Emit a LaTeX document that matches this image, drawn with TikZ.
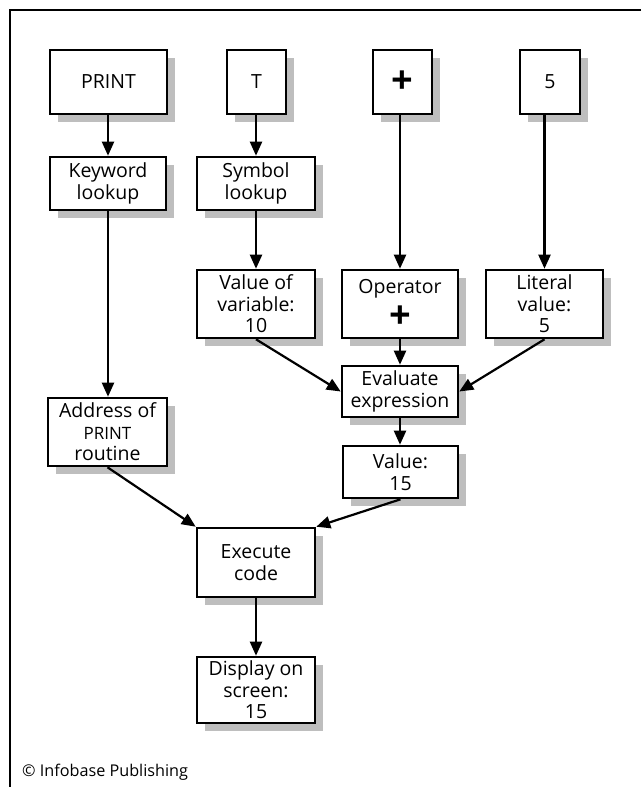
\documentclass[tikz,border=0pt]{standalone}
\usepackage{fontspec}
\setmainfont{Open Sans}
\usetikzlibrary{arrows.meta,shadows}
\definecolor{shadowgray}{RGB}{190,190,190}
\newcommand{\bigplus}{{\fontsize{38}{24}\selectfont\bfseries +}}
\tikzset{
  box/.style={draw, line width=2.6pt, fill=white, inner sep=0pt, align=center,
    font=\fontsize{19.5}{21.5}\selectfont,
    drop shadow={shadow xshift=8pt, shadow yshift=-8pt, fill=shadowgray, opacity=1}},
  arr/.style={line width=2.2pt, -{Triangle[length=14pt,width=12pt]}},
  frame/.style={line width=1.5pt}
}
\begin{document}
\begin{tikzpicture}[x=1pt,y=-1pt]
\useasboundingbox (0,0) rectangle (641,787);
\draw[frame] (641,10) -- (10,10) -- (10,787);

\node[box, minimum width=117pt, minimum height=64pt] (print) at (108.5,82) {PRINT};
\node[box, minimum width=59pt, minimum height=64pt] (t) at (256.5,82) {T};
\node[box, minimum width=59pt, minimum height=64pt] (plus) at (402.5,82) {\bigplus};
\node[box, minimum width=60pt, minimum height=64pt] (five) at (550,82) {5};

\node[box, minimum width=116pt, minimum height=53pt] (kw) at (108,183.5) {Keyword\\lookup};
\node[box, minimum width=118pt, minimum height=53pt] (sym) at (256,183.5) {Symbol\\lookup};

\node[box, minimum width=118pt, minimum height=68pt] (val) at (256,304) {Value of\\variable:\\10};
\node[box, minimum width=116pt, minimum height=68pt] (op) at (400,304) {Operator\\[6pt]\bigplus};
\node[box, minimum width=117pt, minimum height=68pt] (lit) at (544.5,304) {Literal\\value:\\5};

\node[box, minimum width=116pt, minimum height=51pt] (eval) at (400,391.5) {Evaluate\\expression};
\node[box, minimum width=119pt, minimum height=68pt] (addr) at (107.5,432) {Address of\\{\fontsize{17}{21.5}\selectfont PRINT}\\routine};
\node[box, minimum width=115pt, minimum height=52pt] (v15) at (400.5,472) {Value:\\15};

\node[box, minimum width=118pt, minimum height=69pt] (exec) at (256,562.5) {Execute\\code};
\node[box, minimum width=118pt, minimum height=66pt] (disp) at (256,690) {Display on\\screen:\\15};

\node[anchor=west, inner sep=0pt, font=\fontsize{16.2}{18}\selectfont] (copy) at (22,772) {© Infobase Publishing};

\draw[arr] (kw.north |- print.south) -- (kw.north);
\draw[arr] (sym.north |- t.south) -- (sym.north);
\draw[arr] (op.north |- plus.south) -- (op.north);
\draw[arr] (lit.north |- five.south) -- (lit.north);
\draw[arr] (kw.south) -- (addr.north -| kw.south);
\draw[arr] (sym.south) -- (val.north);
\draw[arr] (val.south) -- (eval.west);
\draw[arr] (op.south) -- (eval.north);
\draw[arr] (lit.south) -- (eval.east);
\draw[arr] (eval.south) -- (v15.north -| eval.south);
\draw[arr] (addr.south) -- (exec.north west);
\draw[arr] (v15.south) -- (exec.north east);
\draw[arr] (exec.south) -- (disp.north);
\end{tikzpicture}
\end{document}
